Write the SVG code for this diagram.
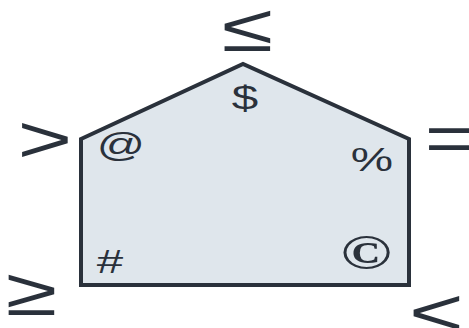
<svg xmlns="http://www.w3.org/2000/svg" width="469" height="328" viewBox="0 0 469 328">
  <style>
    .shape { fill: #dfe6ec; stroke: #2a313b; stroke-width: 4; stroke-linejoin: miter; }
    .sym { font-family: "Liberation Sans", Arial, sans-serif; fill: #2a313b; text-anchor: middle; }
    .big { font-size: 67px; }
    .small { font-size: 34px; }
    .serif { font-family: "Liberation Serif", "Times New Roman", serif; font-size: 49px; font-weight: bold; }
  </style>
  <g id="house">
    <polygon class="shape" points="81,139 243,64 409,139 409,285 81,285"/>
  </g>
  <!-- symbols are drawn wide: 1.4x horizontal stretch -->
  <g id="labels">
    <text class="sym big" transform="translate(247.5,51) scale(1.4,1)">≤</text>
    <text class="sym small" transform="translate(245,108.5) scale(1.4,1)">$</text>
    <text class="sym big" transform="translate(45,162) scale(1.4,1)">&gt;</text>
    <text class="sym small" transform="translate(121,156) scale(1.4,1)">@</text>
    <text class="sym small" transform="translate(372,171) scale(1.4,1)">%</text>
    <text class="sym big" transform="translate(452,161) scale(1.4,1)">=</text>
    <text class="sym small" transform="translate(110,273) scale(1.4,1)">#</text>
    <text class="sym serif" transform="translate(366,269) scale(1.4,1)">©</text>
    <text class="sym big" transform="translate(31.5,315) scale(1.4,1)">≥</text>
    <text class="sym big" transform="translate(436.5,335) scale(1.4,1)">&lt;</text>
  </g>
</svg>
